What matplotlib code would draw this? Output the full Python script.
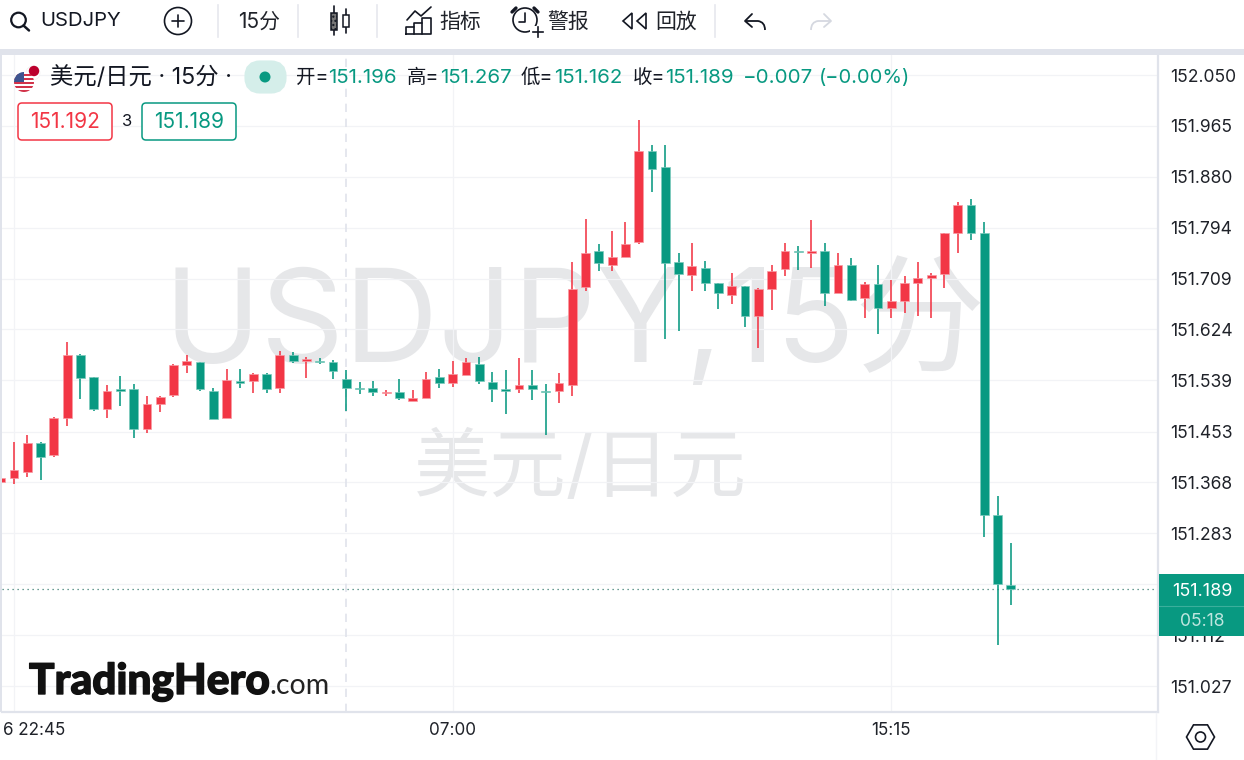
import matplotlib
matplotlib.use("Agg")
import matplotlib.pyplot as plt
import matplotlib.patheffects as pe
from matplotlib.patches import Rectangle, Circle, FancyBboxPatch, Polygon, RegularPolygon, PathPatch
from matplotlib.path import Path
from matplotlib.transforms import ScaledTranslation

plt.rcParams['font.family'] = ['Inter', 'Noto Sans CJK SC', 'DejaVu Sans']

# ---- data ----
first_bar = -1
opens = [151.369, 151.375, 151.385, 151.434, 151.413, 151.476, 151.581, 151.544, 151.491, 151.524,
         151.524, 151.458, 151.499, 151.514, 151.564, 151.569, 151.521, 151.476, 151.537, 151.537,
         151.549, 151.526, 151.581, 151.571, 151.571, 151.569, 151.541, 151.526, 151.526, 151.517,
         151.519, 151.504, 151.509, 151.544, 151.534, 151.547, 151.566, 151.536, 151.524, 151.524,
         151.531, 151.521, 151.521, 151.531, 151.695, 151.755, 151.732, 151.745, 151.770, 151.923,
         151.896, 151.737, 151.715, 151.727, 151.702, 151.682, 151.697, 151.647, 151.692, 151.725,
         151.755, 151.752, 151.755, 151.685, 151.732, 151.677, 151.700, 151.660, 151.672, 151.702,
         151.710, 151.717, 151.785, 151.832, 151.785, 151.313, 151.196]
highs = [151.375, 151.436, 151.447, 151.435, 151.477, 151.603, 151.583, 151.544, 151.531, 151.546,
         151.533, 151.513, 151.513, 151.566, 151.581, 151.569, 151.526, 151.558, 151.558, 151.551,
         151.551, 151.588, 151.586, 151.578, 151.576, 151.573, 151.556, 151.536, 151.538, 151.523,
         151.541, 151.523, 151.553, 151.558, 151.571, 151.576, 151.578, 151.553, 151.556, 151.576,
         151.556, 151.533, 151.551, 151.737, 151.809, 151.767, 151.789, 151.804, 151.975, 151.933,
         151.933, 151.752, 151.769, 151.739, 151.702, 151.719, 151.697, 151.694, 151.732, 151.769,
         151.764, 151.807, 151.769, 151.752, 151.744, 151.704, 151.732, 151.707, 151.714, 151.737,
         151.719, 151.785, 151.838, 151.843, 151.804, 151.345, 151.267]
lows = [151.369, 151.365, 151.377, 151.372, 151.411, 151.462, 151.508, 151.488, 151.476, 151.496,
        151.442, 151.451, 151.486, 151.511, 151.551, 151.521, 151.474, 151.476, 151.526, 151.518,
        151.518, 151.518, 151.568, 151.543, 151.566, 151.541, 151.488, 151.516, 151.513, 151.513,
        151.506, 151.504, 151.509, 151.526, 151.528, 151.547, 151.533, 151.503, 151.483, 151.518,
        151.506, 151.447, 151.501, 151.513, 151.689, 151.722, 151.722, 151.745, 151.767, 151.854,
        151.608, 151.622, 151.689, 151.689, 151.658, 151.667, 151.628, 151.593, 151.657, 151.714,
        151.724, 151.727, 151.663, 151.685, 151.672, 151.643, 151.617, 151.643, 151.652, 151.647,
        151.643, 151.693, 151.752, 151.774, 151.277, 151.095, 151.162]
closes = [151.375, 151.388, 151.434, 151.411, 151.476, 151.581, 151.543, 151.491, 151.521, 151.521,
          151.458, 151.499, 151.511, 151.564, 151.571, 151.524, 151.474, 151.539, 151.534, 151.549,
          151.524, 151.581, 151.571, 151.575, 151.569, 151.554, 151.526, 151.524, 151.519, 151.519,
          151.509, 151.509, 151.541, 151.534, 151.549, 151.569, 151.537, 151.524, 151.521, 151.531,
          151.524, 151.519, 151.534, 151.692, 151.752, 151.735, 151.745, 151.767, 151.923, 151.893,
          151.735, 151.717, 151.730, 151.702, 151.685, 151.697, 151.647, 151.692, 151.722, 151.755,
          151.753, 151.755, 151.685, 151.732, 151.674, 151.700, 151.660, 151.672, 151.702, 151.710,
          151.715, 151.785, 151.832, 151.785, 151.313, 151.197, 151.189]
price_ticks = [152.050, 151.965, 151.880, 151.794, 151.709, 151.624, 151.539, 151.453, 151.368,
               151.283, 151.197, 151.112, 151.027]
price_tick_labels = ['152.050', '151.965', '151.880', '151.794', '151.709', '151.624', '151.539',
                     '151.453', '151.368', '151.283', '', '151.112', '151.027']
time_ticks = [0, 33, 66]
time_tick_labels = ['6 22:45', '07:00', '15:15']
crosshair_bar = 25
last_price = 151.189

UP = '#F23645'
DOWN = '#089981'
UP_EDGE = '#F99AA3'
DOWN_EDGE = '#7CCABD'
BAND = '#E0E3EB'
GRID = '#F2F3F6'
TXT = '#1F2229'
WM = '#E6E7E9'

fig = plt.figure(figsize=(12.44, 7.6), dpi=100, facecolor='white')
ax = fig.add_axes([2 / 1244, 48 / 760, 1156 / 1244, 657 / 760])
ax.set_xlim(-0.903, 86.07)
ax.set_ylim(150.9835, 152.0835)

# watermark
ax.text((575 - 2) / 1156, (712 - 324) / 657, 'USDJPY,15分', transform=ax.transAxes,
        ha='center', va='center', fontsize=94, color=WM, zorder=0.5)
ax.text((580 - 2) / 1156, (712 - 471) / 657, '美元/日元', transform=ax.transAxes,
        ha='center', va='center', fontsize=55, color=WM, zorder=0.5)

# grid
ax.set_yticks(price_ticks)
ax.set_yticklabels(price_tick_labels)
ax.set_xticks(time_ticks)
ax.set_xticklabels(time_tick_labels)
ax.grid(True, color=GRID, lw=0.9, zorder=0.6)
ax.set_axisbelow(True)
ax.yaxis.tick_right()
ax.tick_params(axis='y', length=0, pad=9.0, labelsize=12.6, labelcolor=TXT)
ax.tick_params(axis='x', length=0, pad=7.5, labelsize=12.3, labelcolor=TXT)
for s in ('top', 'left'):
    ax.spines[s].set_visible(False)
for s in ('right', 'bottom'):
    ax.spines[s].set_color(BAND)
    ax.spines[s].set_linewidth(1.6)

first = ax.get_xticklabels()[0]
first.set_ha('left')
first.set_transform(first.get_transform() + ScaledTranslation(-11 / 100, 0, fig.dpi_scale_trans))

ax.axvline(crosshair_bar, color=BAND, lw=1.2, ls=(0, (5, 4)), zorder=0.8)
ax.axhline(last_price, color='#3B7F72', lw=0.9, ls=(0, (1, 3)), zorder=1)

# candles
for k, (o, h, l, c) in enumerate(zip(opens, highs, lows, closes)):
    x = first_bar + k
    up = c >= o
    col = UP if up else DOWN
    edge = UP_EDGE if up else DOWN_EDGE
    ax.vlines(x, l, h, color=col, lw=1.15, zorder=2)
    ax.bar(x, abs(c - o), bottom=min(o, c), width=0.66, color=col, edgecolor=edge, linewidth=0.5, zorder=3)

# ---- interface layer in pixel coordinates ----
ui = fig.add_axes([0, 0, 1, 1], facecolor='none')
ui.set_xlim(0, 1244)
ui.set_ylim(760, 0)
ui.axis('off')

ui.add_patch(Rectangle((0, 49), 1244, 6, color=BAND, lw=0))
ui.add_patch(Rectangle((0, 55), 2, 657, color=BAND, lw=0))
for sx in (218, 298, 377, 715):
    ui.plot([sx, sx], [5, 37], color='#E6E8EE', lw=1.2)

INK = '#131722'


def line(xs, ys, color=INK, lw=1.2):
    ui.plot(xs, ys, color=color, lw=lw, solid_capstyle='round', solid_joinstyle='round')


def label(x, y, s, size=13.4, color=TXT, ha='left', **kw):
    ui.text(x, y, s, fontsize=size, color=color, ha=ha, va='center', **kw)


# search
ui.add_patch(Circle((18.5, 20), 7.3, fill=False, ec=INK, lw=1.6))
line([23.5, 29], [25.5, 30.5], lw=1.8)
label(40, 21.5, 'USDJPY', size=14.6, color=INK)
# add
ui.add_patch(Circle((178, 21), 13.5, fill=False, ec=INK, lw=1.2))
line([172, 184], [21, 21])
line([178, 178], [15, 27])
label(238, 21.5, '15分', size=15)
# candle icon
line([334, 334], [6, 35])
line([346, 346], [9, 33])
ui.add_patch(Rectangle((331, 13), 6, 17, fc='#777777', ec=INK, lw=1.1, hatch='....', zorder=3))
ui.add_patch(Rectangle((343, 15), 6, 12, fc='white', ec=INK, lw=1.1, zorder=3))
# indicators icon
line([406, 406, 414, 414, 422, 422, 431, 431, 406], [34, 27, 27, 23, 23, 18, 18, 34, 34])
line([414, 414], [27, 34])
line([422, 422], [23, 34])
line([407, 415, 421, 431], [20, 11, 16, 7])
label(439, 22, '指标', size=15)
# alarm icon
ui.add_patch(Circle((525, 20), 12, fill=False, ec=INK, lw=1.2))
line([525, 525, 519], [13, 22, 22])
line([512, 516], [12, 8], lw=2.4)
line([534, 538], [8, 12], lw=2.4)
ui.add_patch(Rectangle((530, 26), 14, 12, color='white', lw=0, zorder=3))
ui.plot([533, 543], [32, 32], color=INK, lw=1.2, zorder=4)
ui.plot([538, 538], [27, 37], color=INK, lw=1.2, zorder=4)
label(547, 22, '警报', size=15)
# replay icon
ui.add_patch(Polygon([[632, 13], [623, 21], [632, 29]], closed=True, fill=False, ec=INK, lw=1.2))
ui.add_patch(Polygon([[646, 13], [637, 21], [646, 29]], closed=True, fill=False, ec=INK, lw=1.2))
label(655, 22, '回放', size=15)


def arrow(x0, sign, color):
    verts = [(x0, 21), (x0 + sign * 13, 21), (x0 + sign * 20, 22), (x0 + sign * 20, 30)]
    codes = [Path.MOVETO, Path.LINETO, Path.CURVE3, Path.CURVE3]
    ui.add_patch(PathPatch(Path(verts, codes), fill=False, ec=color, lw=1.3))
    line([x0 + sign * 7, x0, x0 + sign * 7], [14, 21, 27], color=color, lw=1.3)


arrow(745, 1, INK)
arrow(831, -1, '#D5D8E0')

# flag
disc = Circle((24, 82), 10, fc='white', ec='none', zorder=5)
ui.add_patch(disc)
for yy in (74, 78, 82, 86, 90):
    r = Rectangle((13, yy), 22, 2.1, color='#D2334A', lw=0, zorder=6)
    ui.add_patch(r)
    r.set_clip_path(disc)
canton = Rectangle((13, 71), 11, 11, color='#3F5590', lw=0, zorder=7)
ui.add_patch(canton)
canton.set_clip_path(disc)
ui.add_patch(Circle((33, 73), 7, fc='white', ec='#EEEEEE', lw=0.4, zorder=4))
ui.add_patch(Circle((34, 71), 5.2, fc='#BC002D', ec='none', zorder=8))

# legend row
label(50, 78, '美元/日元 · 15分 ·', size=16.8, color=INK)
ui.add_patch(FancyBboxPatch((250, 66), 31, 22, boxstyle='round,pad=0,rounding_size=10', mutation_aspect=1,
                            fc='#D5EEEA', ec='#D5EEEA', lw=8))
ui.add_patch(Circle((265, 77), 5.5, fc=DOWN, ec='none', zorder=4))
for x0, name, xv, val in [(296, '开=', 328, '151.196'), (407, '高=', 440, '151.267'),
                          (521, '低=', 554, '151.162'), (633, '收=', 665, '151.189')]:
    label(x0, 78, name, size=14, color=INK)
    label(xv, 78, val, size=14.8, color=DOWN)
label(743, 78, '−0.007', size=14.8, color=DOWN)
label(819, 78, '(−0.00%)', size=14.4, color=DOWN)

# price boxes
ui.add_patch(FancyBboxPatch((18, 103), 94, 37, boxstyle='round,pad=0,rounding_size=4', fc='white', ec=UP, lw=1.1, zorder=4))
label(65, 122, '151.192', size=15, color=UP, ha='center', zorder=5)
label(127, 121, '3', size=12, color=INK, ha='center', zorder=5)
ui.add_patch(FancyBboxPatch((142, 103), 94, 37, boxstyle='round,pad=0,rounding_size=4', fc='white', ec=DOWN, lw=1.1, zorder=4))
label(189, 122, '151.189', size=15, color=DOWN, ha='center', zorder=5)

# last price tag
ui.add_patch(Rectangle((1159, 574), 85, 62, color=DOWN, lw=0, zorder=6))
ui.plot([1159, 1244], [605.5, 605.5], color='#3BAF9C', lw=0.8, zorder=7)
label(1202, 591, '151.189', size=13, color='white', ha='center', zorder=8)
label(1202, 622, '05:18', size=12.6, color='#BFE6DF', ha='center', zorder=8)

# corner
ui.plot([1155.5, 1155.5], [713, 760], color='#F3F4F7', lw=1)
ui.add_patch(RegularPolygon((1200.5, 737), 6, radius=14, orientation=3.14159 / 2, fill=False, ec=INK, lw=1.2))
ui.add_patch(Circle((1200.5, 737), 5, fill=False, ec=INK, lw=1.2))

# logo
ui.text(29, 694, 'TradingHero', fontsize=30.5, family='Lato', fontweight='black', color='#111111', va='baseline',
        path_effects=[pe.withStroke(linewidth=1.0, foreground='#111111')])
ui.text(269, 694, '.com', fontsize=20.5, family='Lato', color='#222222', va='baseline')

fig.savefig('out.png', dpi=100)
